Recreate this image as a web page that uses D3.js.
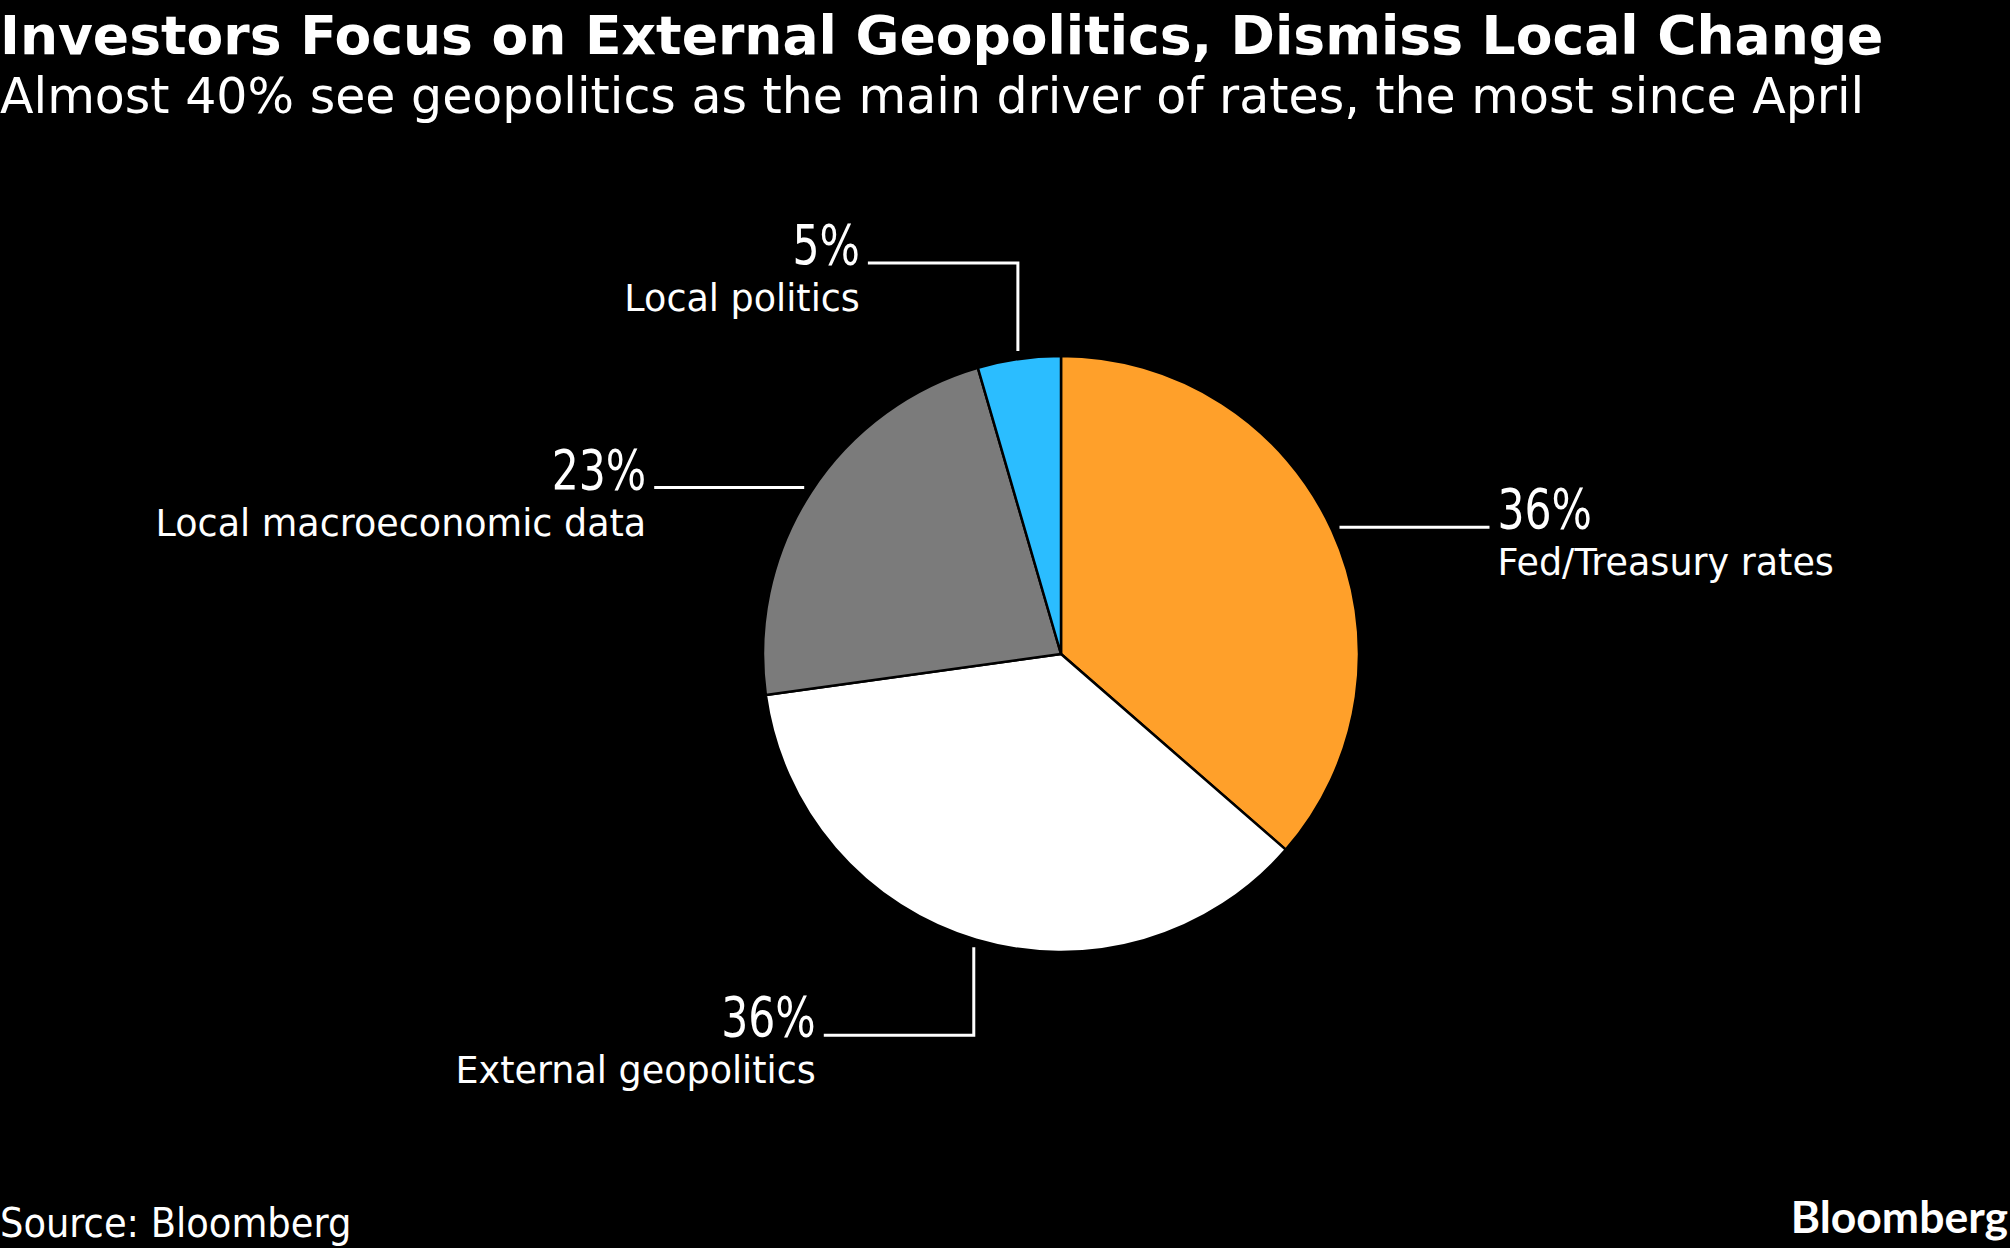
<!DOCTYPE html>
<html>
<head>
<meta charset="utf-8">
<script src="https://cdn.jsdelivr.net/npm/d3@7"></script>
<style>
  html, body { margin: 0; padding: 0; background: #000; }
  svg { display: block; }
</style>
</head>
<body>
<div id="chart"></div>
<script>
// slices, clockwise from 12 o'clock
var categories = ["Fed/Treasury rates", "External geopolitics", "Local macroeconomic data", "Local politics"];
var shares = [36.4, 36.4, 22.7, 4.5];
var sliceColors = ["#ffa02a", "#ffffff", "#7b7b7b", "#2bbdff"];

// which labels are pulled off with an elbow (up/down first) instead of a straight line
var elbowLeader = [false, true, false, true];

var width = 2010,
    height = 1248;

var cx = 1061, cy = 654, radius = 298;

var svg = d3.select("#chart").append("svg")
    .attr("width", width)
    .attr("height", height);

svg.append("rect").attr("width", width).attr("height", height).attr("fill", "#000");

// title + subtitle
svg.append("text")
    .attr("x", 0).attr("y", 54)
    .attr("fill", "#fff")
    .style("font-family", "'DejaVu Sans', sans-serif")
    .style("font-weight", "bold")
    .style("font-size", "53.5px")
    .text("Investors Focus on External Geopolitics, Dismiss Local Change");

svg.append("text")
    .attr("x", 0).attr("y", 113)
    .attr("fill", "#fff")
    .style("font-family", "'DejaVu Sans', sans-serif")
    .style("font-size", "49px")
    .text("Almost 40% see geopolitics as the main driver of rates, the most since April");

var rows = categories.map(function(c, i) {
  return {name: c, value: shares[i], color: sliceColors[i], elbow: elbowLeader[i]};
});

var pie = d3.pie()
    .sort(null)
    .value(function(d) { return d.value; });

var arc = d3.arc()
    .innerRadius(0)
    .outerRadius(radius);

var leaderArc = d3.arc()
    .innerRadius(radius + 8)
    .outerRadius(radius + 8);

var arcs = pie(rows);

var g = svg.append("g").attr("transform", "translate(" + cx + "," + cy + ")");

g.selectAll("path.slice")
  .data(arcs)
  .enter()
  .append("path")
    .attr("class", "slice")
    .attr("d", arc)
    .attr("fill", function(d) { return d.data.color; })
    .attr("stroke", "#000")
    .attr("stroke-width", 2.5)
    .attr("stroke-linejoin", "round");

// leader lines and labels
var hLen = 150, vLen = 88, gap = 8;

arcs.forEach(function(d) {
  var p = leaderArc.centroid(d);
  var side = p[0] < 0 ? -1 : 1;
  var pts = [p];
  var end;
  if (d.data.elbow) {
    var vy = p[1] + (p[1] < 0 ? -vLen : vLen);
    pts.push([p[0], vy]);
    end = [p[0] + side * hLen, vy];
  } else {
    end = [p[0] + side * hLen, p[1]];
  }
  pts.push(end);

  g.append("path")
      .attr("d", d3.line()(pts))
      .attr("fill", "none")
      .attr("stroke", "#fff")
      .attr("stroke-width", 3);

  var tx = end[0] + side * gap;
  var anchor = side < 0 ? "end" : "start";

  // the big numbers are narrower than the font, squeeze them a bit
  g.append("g")
      .attr("transform", "translate(" + tx + "," + (end[1] + 1) + ") scale(0.86,1)")
    .append("text")
      .attr("text-anchor", anchor)
      .attr("fill", "#fff")
      .style("font-family", "'DejaVu Sans Condensed', 'DejaVu Sans', sans-serif")
      .style("font-size", "55px")
      .text(Math.round(d.data.value) + "%");

  g.append("text")
      .attr("x", tx).attr("y", end[1] + 48)
      .attr("text-anchor", anchor)
      .attr("fill", "#fff")
      .style("font-family", "'DejaVu Sans', sans-serif")
      .style("font-size", "36.5px")
      .text(d.data.name);
});

// footer
svg.append("text")
    .attr("x", 0).attr("y", 1237)
    .attr("fill", "#fff")
    .style("font-family", "'DejaVu Sans Condensed', 'DejaVu Sans'")
    .style("font-size", "41px")
    .text("Source: Bloomberg");

svg.append("text")
    .attr("x", 2008).attr("y", 1233)
    .attr("text-anchor", "end")
    .attr("fill", "#fff")
    .style("font-family", "Lato, sans-serif")
    .style("font-weight", "bold")
    .style("font-size", "44.5px")
    .text("Bloomberg");
</script>
</body>
</html>
